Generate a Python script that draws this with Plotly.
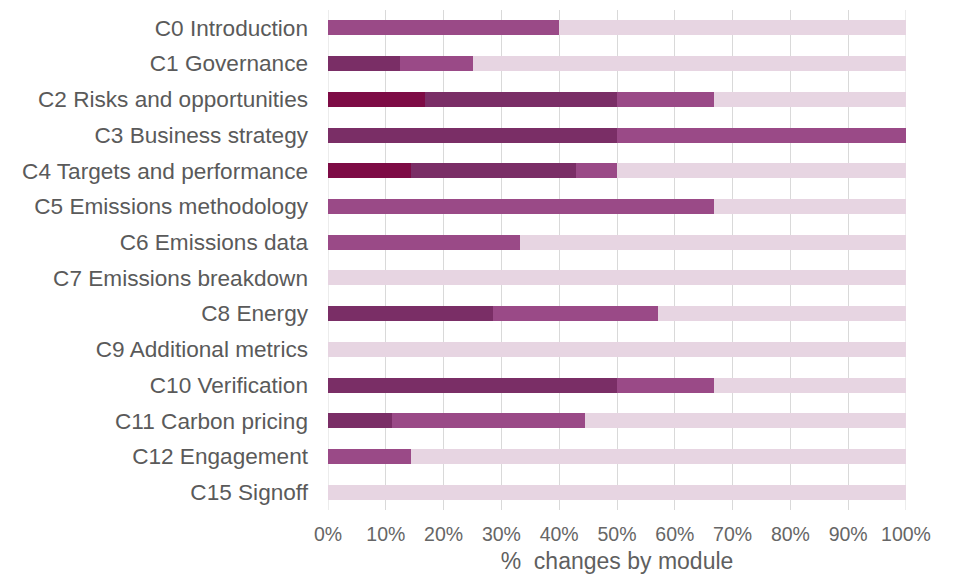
import plotly.graph_objects as go

modules = ["C0 Introduction", "C1 Governance", "C2 Risks and opportunities",
           "C3 Business strategy", "C4 Targets and performance",
           "C5 Emissions methodology", "C6 Emissions data",
           "C7 Emissions breakdown", "C8 Energy", "C9 Additional metrics",
           "C10 Verification", "C11 Carbon pricing", "C12 Engagement",
           "C15 Signoff"]

# segment widths, % of questions in module
major = [0, 0, 16.7, 0, 14.3, 0, 0, 0, 0, 0, 0, 0, 0, 0]
moderate = [0, 12.5, 33.3, 50, 28.6, 0, 0, 0, 28.6, 0, 50, 11.1, 0, 0]
minor = [40, 12.5, 16.7, 50, 7.1, 66.7, 33.3, 0, 28.5, 0, 16.7, 33.3, 14.3, 0]
unchanged = [100 - a - b - c for a, b, c in zip(major, moderate, minor)]

series = [
    ("Major", major, "#7D0B45"),
    ("Moderate", moderate, "#7A2E66"),
    ("Minor", minor, "#9A4A87"),
    ("No change", unchanged, "#E7D5E2"),
]

x_ticks = list(range(0, 101, 10))
x_tick_labels = [f"{v}%" for v in x_ticks]

fig = go.Figure()
for name, vals, col in series:
    fig.add_trace(go.Bar(
        y=modules, x=vals, name=name, orientation="h",
        marker=dict(color=col, line=dict(width=0)),
        width=0.42,
    ))

fig.update_layout(
    barmode="stack",
    width=945, height=567,
    margin=dict(l=320, r=47, t=2, b=65),
    plot_bgcolor="white", paper_bgcolor="white",
    showlegend=False,
    font=dict(family="Liberation Sans, Arial, sans-serif", color="#5f5f5f"),
)
fig.update_xaxes(
    range=[0, 100], tickvals=x_ticks, ticktext=x_tick_labels,
    showgrid=True, gridcolor="#D9D9D9", gridwidth=1,
    zeroline=False, showline=False,
    tickfont=dict(size=19.5, color="#666666"),
    ticklabelstandoff=10,
    title=dict(text="%  changes by module", font=dict(size=23, color="#5f5f5f"), standoff=9),
    automargin=False,
)
fig.update_yaxes(
    categoryorder="array", categoryarray=modules, autorange=False,
    range=[13.5, -0.5],
    showgrid=False, zeroline=False, showline=False,
    tickfont=dict(size=22.6, color="#5a5a5a"),
    ticks="", ticklabelstandoff=19,
    automargin=False,
)
fig.add_shape(type="line", xref="x", yref="paper", x0=0, x1=0, y0=0, y1=1,
              line=dict(color="#D9D9D9", width=1), layer="below")
fig.add_shape(type="line", xref="x", yref="paper", x0=100, x1=100, y0=0, y1=1,
              line=dict(color="#D9D9D9", width=1), layer="below")

fig.write_html("out.html")
